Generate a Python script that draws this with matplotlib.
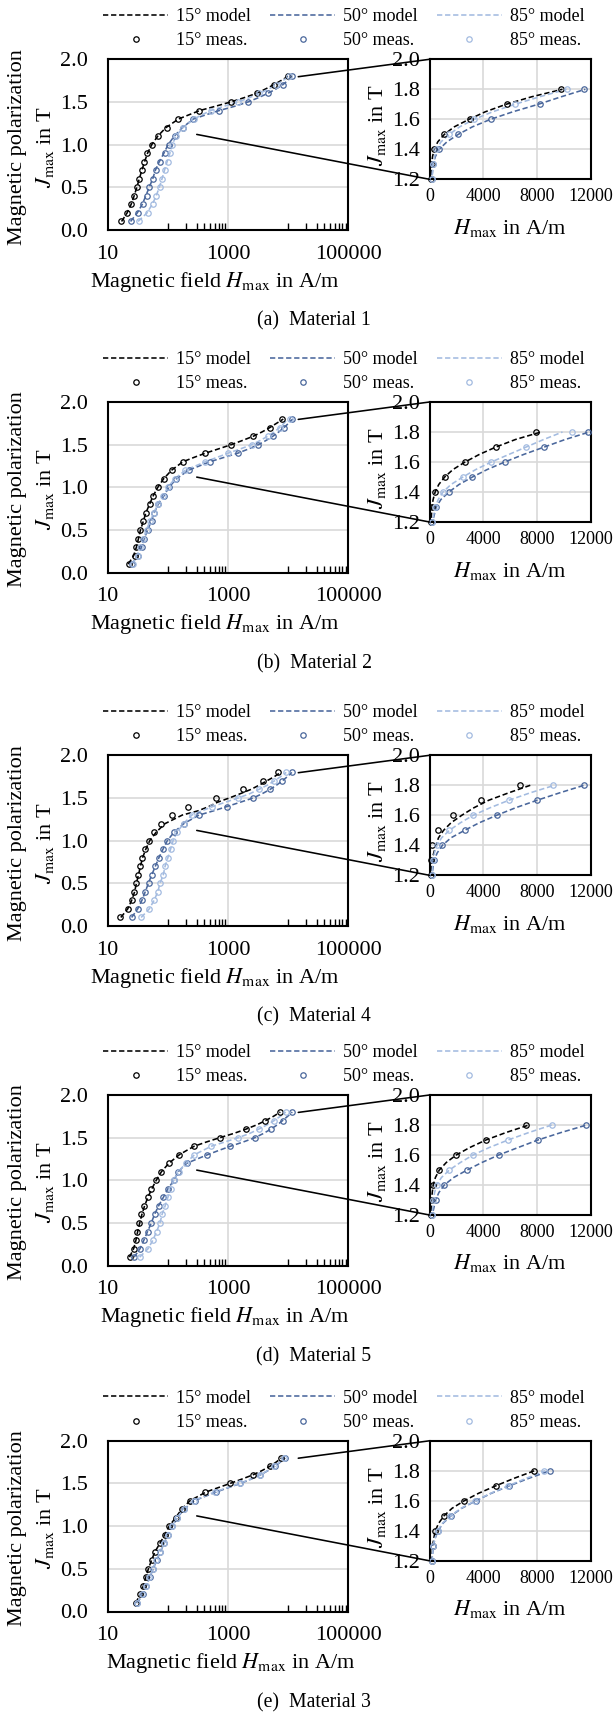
import numpy as np
import matplotlib
matplotlib.use("Agg")
import matplotlib.pyplot as plt
from matplotlib.lines import Line2D
from matplotlib.patches import ConnectionPatch
from matplotlib.ticker import FixedLocator, NullFormatter

plt.rcParams["font.family"] = ["Liberation Serif", "DejaVu Serif"]
plt.rcParams["mathtext.fontset"] = "stix"
plt.rcParams["lines.scale_dashes"] = False

# ---------------------------------------------------------------- data
# polarization levels (T)
meas_J = [0.1, 0.2, 0.3, 0.4, 0.5, 0.6, 0.7, 0.8, 0.9, 1.0, 1.1, 1.2,
          1.3, 1.4, 1.5, 1.6, 1.7, 1.8]
model_J = [0.1, 0.2, 0.3, 0.4, 0.5, 0.6, 0.7, 0.8, 0.9, 1.0, 1.1, 1.2,
           1.3, 1.35, 1.4, 1.45, 1.5, 1.55, 1.6, 1.65, 1.7, 1.75, 1.8]

# field strength H (A/m) -- Material 1
mat1_meas_15 = [16.6, 21, 24.5, 27.5, 30.3, 33.6, 36.5, 40.5, 45.5, 54.5, 69.5, 95, 150, 330, 1110, 3000, 5800, 9800]
mat1_meas_50 = [24.5, 31.5, 38, 44.3, 49.5, 57, 63, 74, 89, 104, 131, 178, 260, 700, 2140, 4550, 8200, 11500]
mat1_meas_85 = [32.7, 46.4, 55.6, 64.7, 73, 81, 89, 98.7, 110, 118.5, 138, 178, 272, 520, 1480, 3330, 6350, 10200]
mat1_model_15 = [17, 21, 24.5, 27.5, 30.5, 33.5, 37, 41, 46, 54, 68, 93, 150, 225, 340, 620, 1110, 1850, 2950, 4150, 5700, 7600, 9900]
mat1_model_50 = [24, 31, 37.5, 43, 49, 56, 62, 72, 86, 101, 128, 175, 265, 430, 720, 1300, 2150, 3200, 4550, 6200, 8100, 9800, 11600]
mat1_model_85 = [32, 45, 55, 64, 72, 80, 88, 97, 108, 118, 137, 178, 270, 370, 520, 860, 1480, 2250, 3330, 4700, 6350, 8200, 10200]

# Material 2
mat2_meas_15 = [22.3, 27.9, 30.1, 32.5, 35, 38.9, 42.6, 49.6, 57.6, 69, 86.6, 117, 179, 410, 1130, 2650, 4950, 7900]
mat2_meas_50 = [25.6, 32.2, 36.6, 40.6, 46, 53.6, 59.3, 69.1, 86.9, 104, 139, 223, 500, 1460, 3200, 5600, 8550, 11800]
mat2_meas_85 = [25.9, 31.4, 34.3, 39, 44.3, 50.3, 59.3, 67.4, 83.7, 101, 131, 196, 420, 1000, 2490, 4600, 7220, 10580]
mat2_model_15 = [22, 27, 30, 32.5, 35, 39, 43, 49.5, 57, 68, 85, 115, 178, 270, 420, 690, 1130, 1750, 2650, 3700, 4950, 6400, 8300]
mat2_model_50 = [25, 32, 36.5, 40.5, 46, 53, 59, 69, 86, 104, 139, 220, 500, 850, 1450, 2200, 3200, 4300, 5600, 7000, 8550, 10100, 11900]
mat2_model_85 = [25.5, 31, 34, 39, 44, 50, 59, 67, 83, 100, 130, 195, 420, 650, 1000, 1600, 2490, 3450, 4600, 5900, 7200, 8500, 9900]

# Material 4
mat4_meas_15 = [16.3, 21.8, 25, 27.8, 29.8, 32.3, 34.2, 36.6, 41, 47.8, 59.3, 78, 117, 215, 620, 1750, 3850, 6700]
mat4_meas_50 = [25.5, 32, 37.3, 42.3, 47.9, 54.2, 62.3, 71.5, 83, 98, 127, 185, 325, 960, 2620, 5050, 8000, 11500]
mat4_meas_85 = [36.1, 49.5, 59.4, 69, 74.4, 84.1, 90.6, 101, 112, 123, 143, 184, 250, 540, 1450, 3240, 5900, 9200]
mat4_model_15 = [16.5, 21.5, 25, 28, 30, 32.5, 35, 38, 43, 50, 64, 90, 174, 320, 480, 670, 1050, 1600, 2400, 3300, 4400, 5900, 7500]
mat4_model_50 = [25, 31.5, 37, 42, 47.5, 54, 62, 71, 83, 98, 127, 185, 330, 580, 960, 1600, 2620, 3700, 5000, 6400, 8000, 9700, 11500]
mat4_model_85 = [36, 49, 59, 68, 74, 84, 90, 100, 111, 122, 142, 183, 250, 370, 560, 900, 1480, 2300, 3250, 4500, 5900, 7500, 9300]

# Material 5
mat5_meas_15 = [23.3, 27.1, 29.2, 31, 33.5, 36.1, 40.7, 46, 53.4, 64.1, 78, 105, 155, 270, 730, 1990, 4200, 7220]
mat5_meas_50 = [27.8, 34.8, 40.5, 46.6, 53, 60, 70, 84, 100, 127, 148, 206, 455, 1100, 2800, 5150, 8070, 11650]
mat5_meas_85 = [34.5, 47.3, 57, 65.5, 75, 80.5, 90, 101, 112, 126, 152, 199, 277, 530, 1480, 3240, 5850, 9100]
mat5_model_15 = [23, 27, 29.5, 31.5, 34, 37, 41, 46.5, 54, 64, 78, 104, 155, 205, 275, 440, 730, 1250, 1990, 3000, 4200, 5700, 7400]
mat5_model_50 = [27.5, 34.5, 40, 46, 53, 60, 70, 84, 100, 126, 148, 206, 455, 700, 1100, 1800, 2800, 3900, 5150, 6600, 8070, 9800, 11700]
mat5_model_85 = [34, 47, 56.5, 65, 74, 80, 90, 100, 111, 125, 150, 198, 277, 380, 530, 890, 1480, 2300, 3240, 4450, 5850, 7400, 9100]

# Material 3
mat3_meas_15 = [29, 35, 39, 43, 47.5, 53.5, 61, 74, 89, 105, 135, 170, 235, 420, 1080, 2580, 4940, 7750]
mat3_meas_50 = [31, 38, 44, 50, 57, 65, 75, 87, 101, 119, 144, 187, 280, 640, 1600, 3450, 5950, 8950]
mat3_meas_85 = [30.5, 37.5, 43.5, 49.5, 56.5, 64, 74.5, 86, 100, 117, 142, 184, 272, 600, 1560, 3400, 5850, 8500]
mat3_model_15 = [29, 35, 39, 43, 47.5, 53.5, 61, 74, 89, 105, 135, 170, 235, 320, 430, 680, 1080, 1680, 2580, 3650, 4940, 6300, 7800]
mat3_model_50 = [31, 38, 44, 50, 57, 65, 75, 87, 101, 119, 144, 187, 280, 420, 640, 1000, 1600, 2400, 3450, 4600, 5950, 7400, 8950]
mat3_model_85 = [30.5, 37.5, 43.5, 49.5, 56.5, 64, 74.5, 86, 100, 117, 142, 184, 272, 400, 600, 960, 1560, 2350, 3400, 4550, 5850, 7200, 8600]

panels = [
    ("(a)", "Material 1", [mat1_model_15, mat1_model_50, mat1_model_85], [mat1_meas_15, mat1_meas_50, mat1_meas_85]),
    ("(b)", "Material 2", [mat2_model_15, mat2_model_50, mat2_model_85], [mat2_meas_15, mat2_meas_50, mat2_meas_85]),
    ("(c)", "Material 4", [mat4_model_15, mat4_model_50, mat4_model_85], [mat4_meas_15, mat4_meas_50, mat4_meas_85]),
    ("(d)", "Material 5", [mat5_model_15, mat5_model_50, mat5_model_85], [mat5_meas_15, mat5_meas_50, mat5_meas_85]),
    ("(e)", "Material 3", [mat3_model_15, mat3_model_50, mat3_model_85], [mat3_meas_15, mat3_meas_50, mat3_meas_85]),
]
angles = ["15°", "50°", "85°"]
colors = ["#000000", "#4a679c", "#a3bbe0"]

# ---------------------------------------------------------------- layout (pixels)
W, H = 615, 1714
fig = plt.figure(figsize=(W / 100, H / 100), dpi=100)

def fx(x):
    return x / W

def fy(y):
    return 1 - y / H

MAIN_L, MAIN_R, MAIN_H = 107.7, 348.3, 170.7
INS_L, INS_R, INS_H = 429.5, 590.7, 120.0
main_tops = [59.3, 402.0, 755.3, 1095.0, 1440.8]
xlabel_cx = [214.7, 214.7, 214.7, 225.0, 230.5]

GRID = "#d9d9d9"
DASH = (0, (3.8, 2.0))
FS = 16
MS, MEW = 3.9, 0.9

def style_box(ax):
    for s in ax.spines.values():
        s.set_linewidth(1.5)
        s.set_color("black")
    ax.set_axisbelow(True)

for (tag, name, models, meas), top, xcx in zip(panels, main_tops, xlabel_cx):
    bottom = top + MAIN_H

    # ---- main axes: logarithmic field axis
    ax = fig.add_axes([fx(MAIN_L), fy(bottom), (MAIN_R - MAIN_L) / W, MAIN_H / H])
    ax.set_xscale("log")
    ax.set_xlim(10, 1e5)
    ax.set_ylim(0, 2.0)
    ax.xaxis.set_major_locator(FixedLocator([10, 1000, 100000]))
    ax.set_xticklabels(["10", "1000", "100000"])
    minor = [k * 100 for k in range(1, 10)] + [k * 10000 for k in range(1, 10)]
    ax.xaxis.set_minor_locator(FixedLocator(minor))
    ax.xaxis.set_minor_formatter(NullFormatter())
    ax.set_yticks([0, 0.5, 1.0, 1.5, 2.0])
    ax.set_yticklabels(["0.0", "0.5", "1.0", "1.5", "2.0"])
    ax.tick_params(axis="x", which="major", length=0, pad=10.5, labelsize=FS)
    ax.tick_params(axis="x", which="minor", direction="in", length=5, width=1.0, color="black")
    ax.tick_params(axis="y", length=0, pad=14.5, labelsize=FS)
    ax.grid(True, which="major", color=GRID, lw=1.2)
    style_box(ax)

    # ---- inset: linear field axis, upper polarization range
    ins = fig.add_axes([fx(INS_L), fy(top + INS_H), (INS_R - INS_L) / W, INS_H / H])
    ins.set_xlim(0, 12000)
    ins.set_ylim(1.2, 2.0)
    ins.set_xticks([0, 4000, 8000, 12000])
    ins.set_xticklabels(["0", "4000", "8000", "12000"])
    ins.set_yticks([1.2, 1.4, 1.6, 1.8, 2.0])
    ins.set_yticklabels(["1.2", "1.4", "1.6", "1.8", "2.0"])
    ins.tick_params(axis="x", length=0, pad=6.5, labelsize=13)
    ins.tick_params(axis="y", length=0, pad=6.8, labelsize=FS)
    ins.grid(True, color=GRID, lw=1.2)
    style_box(ins)

    for hm, c in zip(models, colors):
        ax.plot(hm, model_J, ls=DASH, color=c, lw=1.15)
        ins.plot(hm, model_J, ls=DASH, color=c, lw=1.15)
    for hs, c in zip(meas, colors):
        ax.plot(hs, meas_J, ls="none", marker="o", ms=MS, mew=MEW, mfc="none", mec=c)
        hs_arr = np.asarray(hs)
        js_arr = np.asarray(meas_J)
        keep = (js_arr >= 1.2) & (hs_arr <= 12000)
        ins.plot(hs_arr[keep], js_arr[keep], ls="none", marker="o", ms=MS, mew=MEW,
                 mfc="none", mec=c, clip_on=False, zorder=3)

    # ---- zoom connectors
    for xyA, xyB in [((0.792, 0.898), (0.0, 1.0)), ((0.37, 0.56), (0.0, 0.0))]:
        con = ConnectionPatch(xyA=xyA, coordsA=ax.transAxes, xyB=xyB, coordsB=ins.transAxes,
                              color="black", lw=1.15, zorder=5)
        fig.add_artist(con)

    # ---- labels
    fig.text(fx(17.5), fy(top + 87.5), "Magnetic polarization", rotation=90,
             ha="center", va="center", fontsize=FS)
    fig.text(fx(44.5), fy(top + 87.5), r"$J_{\mathrm{max}}$ in T", rotation=90,
             ha="center", va="center", fontsize=FS)
    fig.text(fx(xcx), fy(bottom + 51.5), r"Magnetic field $H_{\mathrm{max}}$ in A/m",
             ha="center", va="center", fontsize=FS)
    fig.text(fx(377), fy(top + 66), r"$J_{\mathrm{max}}$ in T", rotation=90,
             ha="center", va="center", fontsize=FS)
    fig.text(fx(510), fy(top + INS_H + 48.5), r"$H_{\mathrm{max}}$ in A/m",
             ha="center", va="center", fontsize=FS)
    fig.text(fx(314), fy(bottom + 91.3), f"{tag}  {name}", ha="center", va="center",
             fontsize=14.2)

    # ---- legend: models on the first row, measurements on the second
    handles, labels = [], []
    for a, c in zip(angles, colors):
        handles.append(Line2D([], [], ls=DASH, color=c, lw=1.15))
        labels.append(f"{a} model")
        handles.append(Line2D([], [], ls="none", marker="o", ms=MS, mew=MEW, mfc="none", mec=c))
        labels.append(f"{a} meas.")
    fig.legend(handles, labels, ncol=3, loc="center", bbox_to_anchor=(fx(344), fy(top - 30.5)),
               frameon=False, fontsize=13, handlelength=3.6, handletextpad=0.45,
               columnspacing=1.05, labelspacing=0.4, borderpad=0, borderaxespad=0)

fig.savefig("out.png", dpi=100)
